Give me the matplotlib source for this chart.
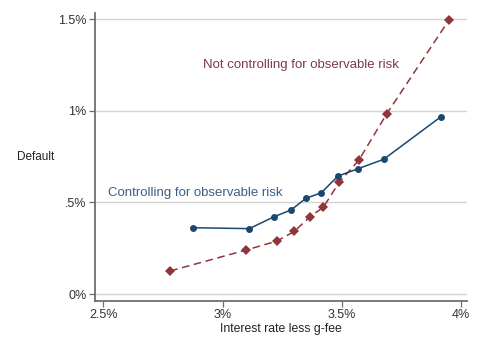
import matplotlib
matplotlib.use("Agg")
import matplotlib.pyplot as plt
from matplotlib.ticker import FixedLocator

plt.rcParams['font.family'] = ['Liberation Sans', 'DejaVu Sans']

# Controlling for observable risk (blue)
ctrl_x = [2.875, 3.112, 3.216, 3.287, 3.350, 3.413, 3.484, 3.566, 3.675, 3.916]
ctrl_y = [0.362, 0.357, 0.422, 0.459, 0.523, 0.552, 0.644, 0.683, 0.735, 0.968]

# Not controlling for observable risk (red)
raw_x = [2.780, 3.098, 3.227, 3.301, 3.365, 3.422, 3.490, 3.571, 3.688, 3.948]
raw_y = [0.126, 0.240, 0.289, 0.342, 0.421, 0.473, 0.612, 0.730, 0.983, 1.493]

x_ticks = [2.5, 3.0, 3.5, 4.0]
x_labels = ['2.5%', '3%', '3.5%', '4%']
y_ticks = [0.0, 0.5, 1.0, 1.5]
y_labels = ['0%', '.5%', '1%', '1.5%']

blue = '#1a476f'
red = '#90353b'
grey = '#6e6e6e'

fig = plt.figure(figsize=(4.8, 3.49), dpi=100)
ax = fig.add_axes([0.198, 0.138, 0.775, 0.826])

for t in y_ticks:
    ax.axhline(t, color='#d4d4d4', lw=1.0, zorder=0)

ax.plot(raw_x, raw_y, color=red, lw=1.1, ls=(0, (5, 3)), marker='D',
        markersize=5.5, markeredgewidth=0, zorder=3)
ax.plot(ctrl_x, ctrl_y, color=blue, lw=1.1, marker='o',
        markersize=5, markeredgewidth=0, zorder=4)

ax.text(2.918, 1.251, 'Not controlling for observable risk', color='#7e3a44',
        fontsize=9.5, va='center', ha='left')
ax.text(2.52, 0.55, 'Controlling for observable risk', color='#3d5f85',
        fontsize=9.5, va='center', ha='left')

ax.set_xlim(2.465, 4.025)
ax.set_ylim(-0.037, 1.536)
ax.xaxis.set_major_locator(FixedLocator(x_ticks))
ax.yaxis.set_major_locator(FixedLocator(y_ticks))
ax.set_xticklabels(x_labels)
ax.set_yticklabels(y_labels)

for side in ['top', 'right']:
    ax.spines[side].set_visible(False)
for side in ['left', 'bottom']:
    ax.spines[side].set_color(grey)
    ax.spines[side].set_linewidth(1.3)

ax.tick_params(axis='both', colors=grey, labelcolor='#333333', labelsize=9,
               length=4.5, width=0.9, direction='out', pad=1.5)

ax.set_xlabel('Interest rate less g-fee', fontsize=8.8, color='#222222', labelpad=1)
ax.set_ylabel('Default', fontsize=8.5, color='#222222', rotation=0,
              ha='center', va='center')
ax.yaxis.set_label_coords(-0.161, 0.5)

fig.savefig('out.png', dpi=100)
